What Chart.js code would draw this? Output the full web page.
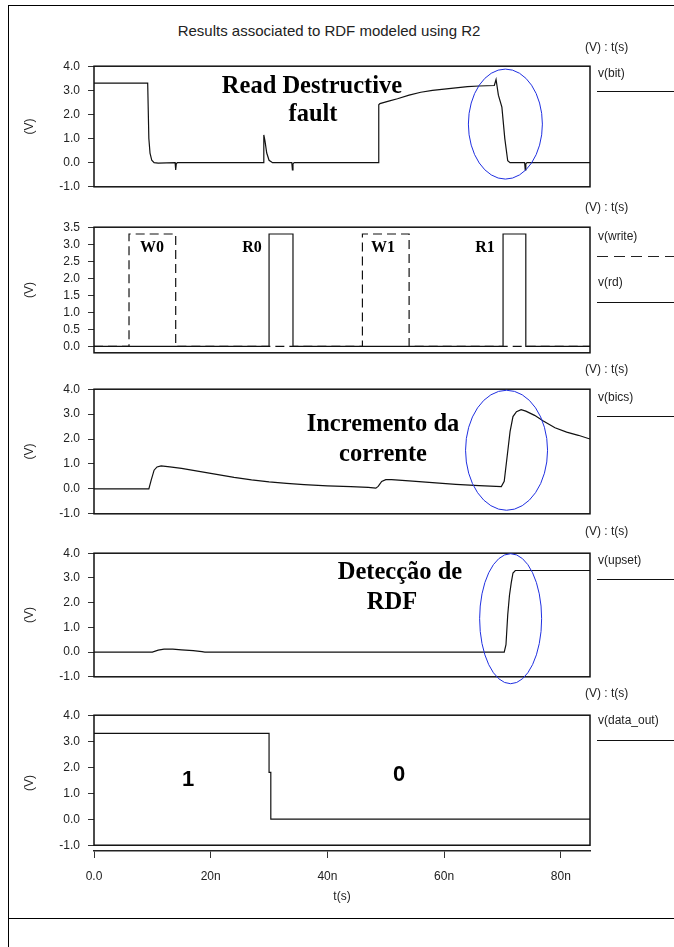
<!DOCTYPE html>
<html>
<head>
<meta charset="utf-8">
<script src="https://cdn.jsdelivr.net/npm/chart.js@4.4.1/dist/chart.umd.min.js"></script>
<style>
body { margin: 0; background: #fff; width: 674px; height: 947px; position: relative; overflow: hidden; font-family: "Liberation Sans", Arial, sans-serif; }
.abs { position: absolute; white-space: nowrap; }
.wrap { position: absolute; left: 0; width: 674px; }
.lbl { font-size: 12px; color: #222; line-height: 14px; }
.ann { font-family: "Liberation Serif", "Times New Roman", serif; font-weight: bold; color: #000; font-size: 24.5px; line-height: 28px; transform: translate(-50%, -50%); }
.pulse { font-size: 16px; line-height: 18px; }
.bit { font-family: "Liberation Sans", Arial, sans-serif; font-size: 22px; }
.leg { position: absolute; left: 597px; width: 77px; height: 0; border-top: 1px solid #111; }
.legdash { position: absolute; left: 597px; width: 77px; height: 1px; background: repeating-linear-gradient(to right, #222 0 11px, transparent 11px 17px); }
</style>
</head>
<body>
<!-- outer frame of the screenshot -->
<div class="abs" style="left:8px;top:5px;width:670px;height:950px;border-left:1.5px solid #000;border-top:1.5px solid #000;"></div>
<div class="abs" style="left:8px;top:918px;width:670px;height:0;border-top:1.5px solid #000;"></div>

<div class="abs lbl" style="left:329px;top:22px;font-size:15px;line-height:17px;transform:translateX(-50%);">Results associated to RDF modeled using R2</div>

<div class="wrap" style="top:51px;height:151px"><canvas id="c1" width="674" height="151"></canvas></div>
<div class="wrap" style="top:212px;height:156px"><canvas id="c2" width="674" height="156"></canvas></div>
<div class="wrap" style="top:374px;height:155px"><canvas id="c3" width="674" height="155"></canvas></div>
<div class="wrap" style="top:538px;height:154px"><canvas id="c4" width="674" height="154"></canvas></div>
<div class="wrap" style="top:700px;height:210px"><canvas id="c5" width="674" height="210"></canvas></div>

<!-- legend blocks on the right -->
<div class="abs lbl" style="left:585px;top:40px">(V) : t(s)</div>
<div class="abs lbl" style="left:598px;top:66px">v(bit)</div>
<div class="leg" style="top:91px"></div>

<div class="abs lbl" style="left:585px;top:200px">(V) : t(s)</div>
<div class="abs lbl" style="left:598px;top:229px">v(write)</div>
<div class="legdash" style="top:256px"></div>
<div class="abs lbl" style="left:598px;top:275px">v(rd)</div>
<div class="leg" style="top:302px"></div>

<div class="abs lbl" style="left:585px;top:362px">(V) : t(s)</div>
<div class="abs lbl" style="left:598px;top:390px">v(bics)</div>
<div class="leg" style="top:416px"></div>

<div class="abs lbl" style="left:585px;top:524px">(V) : t(s)</div>
<div class="abs lbl" style="left:598px;top:553px">v(upset)</div>
<div class="leg" style="top:579px"></div>

<div class="abs lbl" style="left:585px;top:686px">(V) : t(s)</div>
<div class="abs lbl" style="left:598px;top:713px">v(data_out)</div>
<div class="leg" style="top:740px"></div>

<!-- annotations -->
<div class="abs ann" style="left:312px;top:85px">Read Destructive</div>
<div class="abs ann" style="left:313px;top:113px">fault</div>
<div class="abs ann pulse" style="left:152px;top:247px">W0</div>
<div class="abs ann pulse" style="left:252px;top:247px">R0</div>
<div class="abs ann pulse" style="left:383px;top:247px">W1</div>
<div class="abs ann pulse" style="left:485px;top:247px">R1</div>
<div class="abs ann" style="left:383px;top:423px">Incremento da</div>
<div class="abs ann" style="left:383px;top:453px">corrente</div>
<div class="abs ann" style="left:400px;top:571px">Detecção de</div>
<div class="abs ann" style="left:392px;top:601px">RDF</div>
<div class="abs ann bit" style="left:188px;top:779px">1</div>
<div class="abs ann bit" style="left:399px;top:774px">0</div>

<script>
// time axis in ns
const xTickVals = [0, 20, 40, 60, 80];
const xTickLabels = ["0.0", "20n", "40n", "60n", "80n"];
const yTicksV = [-1, 0, 1, 2, 3, 4];
const yTicksPulse = [0, 0.5, 1, 1.5, 2, 2.5, 3, 3.5];

// v(bit)
const bitT = [0, 9.2, 9.4, 9.6, 9.9, 10.3, 11, 13.9, 14.0, 14.1, 14.3, 29.0, 29.1, 29.3, 29.6, 30.0, 30.6, 33.9, 34.0, 34.1, 34.3,
    48.7, 48.8, 49.0, 50.5, 52, 54, 56, 58, 60, 62, 64, 66, 68.6, 68.9, 69.3, 69.9, 70.4, 70.9, 71.3, 73.8, 73.9, 74.0, 74.2, 85];
const bitV = [3.3, 3.3, 1.0, 0.4, 0.1, 0.0, -0.02, 0, -0.3, -0.05, 0, 0, 1.15, 0.9, 0.4, 0.1, 0, 0, -0.3, -0.05, 0,
    0, 2.4, 2.45, 2.55, 2.65, 2.8, 2.92, 3.0, 3.05, 3.1, 3.15, 3.18, 3.2, 3.45, 2.8, 2.3, 1.0, 0.08, 0, 0, -0.3, -0.05, 0, 0];

// v(write) and v(rd)
const writeT = [0, 6, 6, 14, 14, 46, 46, 54, 54, 85];
const writeV = [0, 0, 3.3, 3.3, 0, 0, 3.3, 3.3, 0, 0];
const rdT = [0, 30, 30, 34.1, 34.1, 70.1, 70.1, 74, 74, 85];
const rdV = [0, 0, 3.3, 3.3, 0, 0, 3.3, 3.3, 0, 0];

// v(bics)
const bicsT = [0, 9.4, 9.8, 10.3, 10.8, 11.5, 13, 15, 18, 21, 24, 27, 30, 33, 36, 40, 44, 47, 48.3, 48.7, 49.3, 50, 51, 54, 58, 62, 66,
    69.8, 70.3, 70.8, 71.3, 71.8, 72.4, 73.2, 74, 75.5, 77, 79, 81, 83, 85];
const bicsV = [0, 0, 0.35, 0.75, 0.88, 0.92, 0.88, 0.82, 0.7, 0.58, 0.46, 0.36, 0.28, 0.22, 0.17, 0.12, 0.09, 0.06, 0.03, 0.1, 0.3, 0.37, 0.37, 0.32, 0.25, 0.18, 0.13,
    0.09, 0.3, 1.3, 2.3, 2.9, 3.1, 3.18, 3.12, 2.95, 2.72, 2.45, 2.28, 2.15, 2.0];

// v(upset)
const upT = [0, 10, 11, 12, 13.5, 15, 17, 18.5, 19, 70.3, 70.6, 70.9, 71.2, 71.5, 71.8, 72.2, 85];
const upV = [0, 0, 0.08, 0.12, 0.12, 0.09, 0.06, 0.02, 0, 0, 0.3, 1.5, 2.3, 2.8, 3.2, 3.3, 3.3];

// v(data_out)
const doT = [0, 30, 30, 30.3, 30.3, 85];
const doV = [3.3, 3.3, 1.8, 1.8, 0, 0];

Chart.defaults.font.family = "'Liberation Sans', Arial, sans-serif";
Chart.defaults.font.size = 12;
Chart.defaults.color = "#222";
Chart.defaults.animation = false;

function pts(t, v) {
    return t.map((x, i) => ({ x: x, y: v[i] }));
}

function line(t, v, dash) {
    return {
        data: pts(t, v),
        borderColor: "#111",
        borderWidth: 1.2,
        pointRadius: 0,
        tension: 0,
        borderDash: dash || []
    };
}

// box around the plot + optional blue ellipse (center in data units, radii in px)
function framePlugin(frameMin, frameMax, ellipse) {
    return {
        id: "frame",
        afterDraw(chart) {
            const ctx = chart.ctx;
            const a = chart.chartArea;
            const y = chart.scales.y;
            const x = chart.scales.x;
            const top = y.getPixelForValue(frameMax);
            const bot = y.getPixelForValue(frameMin);
            ctx.save();
            ctx.strokeStyle = "#111";
            ctx.lineWidth = 1.5;
            ctx.strokeRect(a.left, top, a.right - a.left, bot - top);
            if (ellipse) {
                ctx.strokeStyle = "#1f2fe0";
                ctx.lineWidth = 1;
                ctx.beginPath();
                ctx.ellipse(x.getPixelForValue(ellipse[0]), y.getPixelForValue(ellipse[1]), ellipse[2], ellipse[3], 0, 0, Math.PI * 2);
                ctx.stroke();
            }
            ctx.restore();
        }
    };
}

function yAxis(min, max, ticks) {
    return {
        min: min,
        max: max,
        afterBuildTicks: s => { s.ticks = ticks.map(v => ({ value: v })); },
        afterFit: s => { s.width = 94; },
        border: { display: false },
        grid: { drawOnChartArea: false, drawTicks: true, tickLength: 6, color: "#333" },
        ticks: { padding: 8, color: "#222", callback: v => Number(v).toFixed(1) },
        title: { display: true, text: "(V)", color: "#222", padding: { top: 22, bottom: 0 } }
    };
}

function panel(id, datasets, yMin, yMax, ticks, frameMin, ellipse, withX) {
    const xScale = withX ? {
        type: "linear", min: 0, max: 85,
        afterBuildTicks: s => { s.ticks = xTickVals.map(v => ({ value: v })); },
        afterFit: s => { s.height = 59; },
        border: { display: true, color: "#222", width: 1.5 },
        grid: { drawOnChartArea: false, drawTicks: true, tickLength: 7, color: "#333" },
        ticks: { padding: 11, maxRotation: 0, autoSkip: false, color: "#222", callback: (v, i) => xTickLabels[i] },
        title: { display: true, text: "t(s)", color: "#222", padding: { top: 4, bottom: 6 } }
    } : { type: "linear", min: 0, max: 85, display: false };

    return new Chart(document.getElementById(id), {
        type: "line",
        data: { datasets: datasets },
        options: {
            responsive: false,
            layout: { padding: { left: 0, right: 84, top: 10, bottom: withX ? 0 : 10 } },
            plugins: { legend: { display: false }, tooltip: { enabled: false } },
            scales: { x: xScale, y: yAxis(yMin, yMax, ticks) }
        },
        plugins: [framePlugin(frameMin, yMax, ellipse)]
    });
}

panel("c1", [line(bitT, bitV)], -1, 4, yTicksV, -1, [70.5, 1.6, 37, 55], false);
panel("c2", [line(writeT, writeV, [9, 5]), line(rdT, rdV)], -0.19, 3.5, yTicksPulse, -0.19, null, false);
panel("c3", [line(bicsT, bicsV)], -1, 4, yTicksV, -1, [70.7, 1.55, 41, 60], false);
panel("c4", [line(upT, upV)], -1, 4, yTicksV, -1, [71.4, 1.35, 31, 65], false);
panel("c5", [line(doT, doV)], -1.222, 4, yTicksV, -1, null, true);
</script>
</body>
</html>
